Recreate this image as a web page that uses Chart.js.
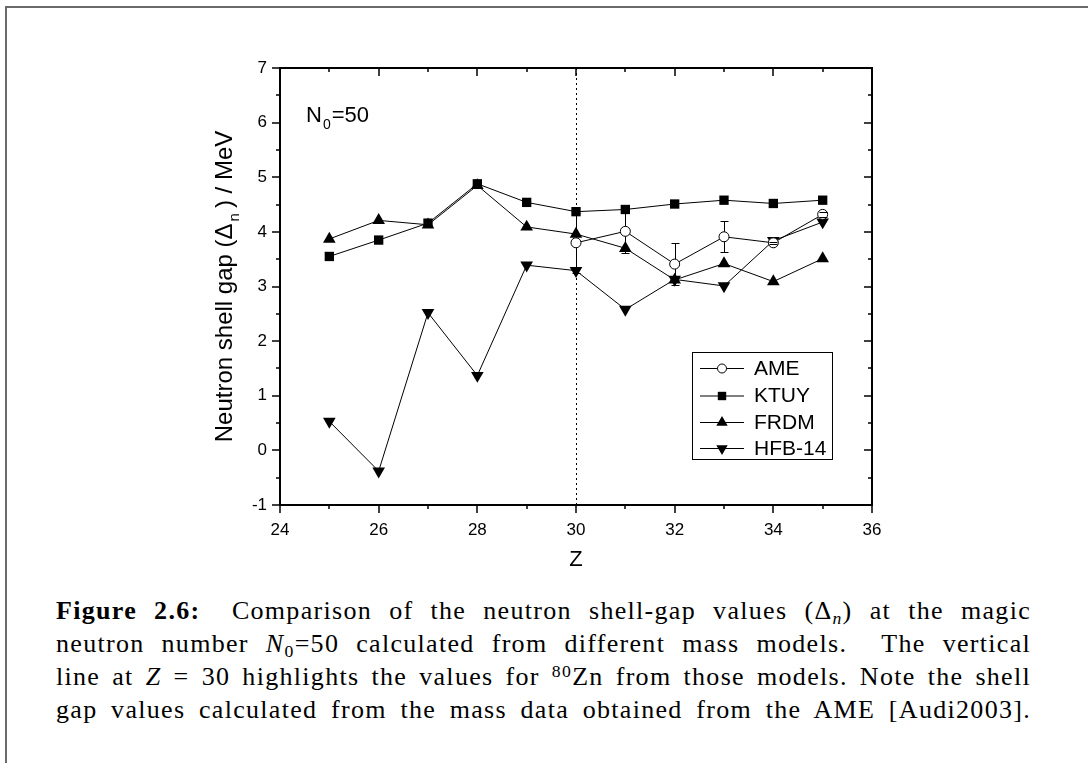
<!DOCTYPE html>
<html>
<head>
<meta charset="utf-8">
<title>Neutron shell gap at N0=50</title>
<script src="https://cdn.jsdelivr.net/npm/chart.js@4.4.1/dist/chart.umd.min.js"></script>
<style>
  html, body { margin: 0; padding: 0; background: #fff; }
  body { width: 1088px; height: 763px; position: relative; overflow: hidden; }
  #frame { position: absolute; left: 5px; top: 6px; width: 1200px; height: 900px;
           border-top: 2px solid #6a6a6a; border-left: 2px solid #6a6a6a; }
  #plot { position: absolute; left: 0; top: 0; }
  #caption { position: absolute; left: 56px; top: 594px; width: 975px;
             font-family: "Liberation Serif", "DejaVu Serif", serif; font-size: 26px;
             line-height: 33px; color: #000; letter-spacing: 0; }
  #caption div { text-align: justify; text-align-last: justify; }
  #caption sub { font-size: 0.68em; vertical-align: -0.28em; line-height: 0; }
  #caption sup { font-size: 0.68em; vertical-align: 0.45em; line-height: 0; }
  .probe { position: absolute; visibility: hidden; white-space: nowrap; left: 0; top: 0; }
</style>
</head>
<body>
<div id="frame"></div>
<canvas id="plot" width="1088" height="590"></canvas>
<div id="caption">
  <div><b>Figure 2.6:</b>&ensp; Comparison of the neutron shell-gap values (Δ<sub><i>n</i></sub>) at the magic</div>
  <div>neutron number <i>N</i><sub>0</sub>=50 calculated from different mass models. &nbsp;The vertical</div>
  <div>line at <i>Z</i> = 30 highlights the values for <sup>80</sup>Zn from those models. Note the shell</div>
  <div>gap values calculated from the mass data obtained from the AME [Audi2003].</div>
</div>
<script>
// Proton number Z of the N0 = 50 isotones
const zValues = [25, 26, 27, 28, 29, 30, 31, 32, 33, 34, 35];

// Neutron shell gap (MeV) from the mass models
const ktuy  = [3.55, 3.85, 4.16, 4.88, 4.54, 4.37, 4.41, 4.51, 4.58, 4.52, 4.58];
const frdm  = [3.87, 4.21, 4.13, 4.85, 4.09, 3.96, 3.70, 3.12, 3.42, 3.09, 3.51];
const hfb14 = [0.53, -0.38, 2.52, 1.37, 3.39, 3.29, 2.58, 3.13, 3.01, 3.84, 4.18];

// Shell gap from the evaluated masses, with uncertainties
const ameZ   = [30, 31, 32, 33, 34, 35];
const ame    = [3.80, 4.01, 3.41, 3.91, 3.80, 4.32];
const ameErr = [0.55, 0.40, 0.38, 0.28, 0.02, 0.05];

// Axis ticks
const xMajorTicks = [24, 26, 28, 30, 32, 34, 36];
const xMinorTicks = [25, 27, 29, 31, 33, 35];
const yMajorTicks = [-1, 0, 1, 2, 3, 4, 5, 6, 7];
const yMinorTicks = [-0.5, 0.5, 1.5, 2.5, 3.5, 4.5, 5.5, 6.5];

const markedZ = 30;   // 80Zn
const seriesNames = ['AME', 'KTUY', 'FRDM', 'HFB-14'];

const SANS = '"Liberation Sans", Arial, Helvetica, sans-serif';

// Caption lines: widen the letter spacing a little, justification does the rest
(function fitCaption() {
  const cap = document.getElementById('caption');
  cap.querySelectorAll('div').forEach(div => {
    const probe = document.createElement('span');
    probe.className = 'probe';
    probe.innerHTML = div.innerHTML;
    cap.appendChild(probe);
    const w = probe.getBoundingClientRect().width;
    probe.remove();
    const n = div.textContent.trim().length;
    const ls = Math.max(0, Math.min(1.3, (968 - w) / n));
    div.style.letterSpacing = ls.toFixed(2) + 'px';
  });
})();

function pairs(xs, ys) { return xs.map((x, i) => ({ x: x, y: ys[i] })); }

const datasets = [
  { label: seriesNames[0], data: pairs(ameZ, ame), order: 0,
    pointStyle: 'circle', pointRadius: 5, pointBackgroundColor: '#fff',
    pointBorderColor: '#000', pointBorderWidth: 1 },
  { label: seriesNames[1], data: pairs(zValues, ktuy), order: 1,
    pointStyle: 'rect', pointRadius: 6.6, pointBackgroundColor: '#000',
    pointBorderColor: '#000', pointBorderWidth: 0 },
  { label: seriesNames[2], data: pairs(zValues, frdm), order: 2,
    pointStyle: 'triangle', pointRadius: 7.3, pointBackgroundColor: '#000',
    pointBorderColor: '#000', pointBorderWidth: 0 },
  { label: seriesNames[3], data: pairs(zValues, hfb14), order: 3,
    pointStyle: 'triangle', pointRotation: 180, pointRadius: 7.3, pointBackgroundColor: '#000',
    pointBorderColor: '#000', pointBorderWidth: 0 }
].map(d => Object.assign({ showLine: true, borderColor: '#000', borderWidth: 1,
                           backgroundColor: '#000', pointHoverRadius: d.pointRadius }, d));

// Dotted marker line, error bars, frame with ticks, labels and the legend
const decorations = {
  id: 'decorations',
  beforeDatasetsDraw(chart) {
    const { ctx, chartArea: a, scales: { x } } = chart;
    const px = Math.round(x.getPixelForValue(markedZ)) + 0.5;
    ctx.save();
    ctx.strokeStyle = '#000';
    ctx.lineWidth = 1;
    ctx.setLineDash([2, 3]);
    ctx.beginPath();
    ctx.moveTo(px, a.bottom);
    ctx.lineTo(px, a.top);
    ctx.stroke();
    ctx.restore();
  },
  afterDatasetsDraw(chart) {
    const { ctx, chartArea: a, scales: { x, y } } = chart;
    ctx.save();
    ctx.strokeStyle = '#000';
    ctx.fillStyle = '#000';

    // error bars of the AME points
    const r = datasets[0].pointRadius;
    ctx.lineWidth = 1;
    ameZ.forEach((z, i) => {
      const px = Math.round(x.getPixelForValue(z)) + 0.5;
      const cy = y.getPixelForValue(ame[i]);
      const top = y.getPixelForValue(ame[i] + ameErr[i]);
      const bot = y.getPixelForValue(ame[i] - ameErr[i]);
      ctx.beginPath();
      if (top < cy - r) { ctx.moveTo(px, top); ctx.lineTo(px, cy - r); }
      if (bot > cy + r) { ctx.moveTo(px, cy + r); ctx.lineTo(px, bot); }
      if (bot - top > 2) {
        ctx.moveTo(px - 4, Math.round(top) + 0.5); ctx.lineTo(px + 4, Math.round(top) + 0.5);
        ctx.moveTo(px - 4, Math.round(bot) + 0.5); ctx.lineTo(px + 4, Math.round(bot) + 0.5);
      }
      ctx.stroke();
    });

    // frame
    ctx.lineWidth = 2;
    ctx.strokeRect(a.left, a.top, a.right - a.left, a.bottom - a.top);

    // ticks: outward on the left and bottom, inward on the right and top
    const MAJ = 8, MIN = 4;
    ctx.lineWidth = 1.5;
    ctx.beginPath();
    const xt = (v, len) => {
      const p = Math.round(x.getPixelForValue(v));
      ctx.moveTo(p, a.bottom); ctx.lineTo(p, a.bottom + len);
      ctx.moveTo(p, a.top); ctx.lineTo(p, a.top + len);
    };
    const yt = (v, len) => {
      const p = Math.round(y.getPixelForValue(v));
      ctx.moveTo(a.left, p); ctx.lineTo(a.left - len, p);
      ctx.moveTo(a.right, p); ctx.lineTo(a.right - len, p);
    };
    xMajorTicks.forEach(v => xt(v, MAJ));
    xMinorTicks.forEach(v => xt(v, MIN));
    yMajorTicks.forEach(v => yt(v, MAJ));
    yMinorTicks.forEach(v => yt(v, MIN));
    ctx.stroke();

    // axis titles
    const cx = (a.left + a.right) / 2;
    const cyMid = (a.top + a.bottom) / 2;
    ctx.textBaseline = 'alphabetic';
    ctx.font = '22px ' + SANS;
    ctx.textAlign = 'center';
    ctx.fillText('Z', cx, 566);

    ctx.save();
    ctx.translate(232, cyMid);
    ctx.rotate(-Math.PI / 2);
    const t1 = 'Neutron shell gap (Δ', t2 = ') / MeV', ts = 'n';
    ctx.font = '24px ' + SANS;
    const w1 = ctx.measureText(t1).width, w2 = ctx.measureText(t2).width;
    ctx.font = '15px ' + SANS;
    const ws = ctx.measureText(ts).width + 7;
    const sx = -(w1 + ws + w2) / 2;
    ctx.textAlign = 'left';
    ctx.font = '24px ' + SANS;
    ctx.fillText(t1, sx, 0);
    ctx.font = '15px ' + SANS;
    ctx.fillText(ts, sx + w1 + 2, 7);
    ctx.font = '24px ' + SANS;
    ctx.fillText(t2, sx + w1 + ws, 0);
    ctx.restore();

    // N0 = 50 label
    ctx.textAlign = 'left';
    ctx.font = '22px ' + SANS;
    ctx.fillText('N', 306, 122);
    const wn = ctx.measureText('N').width;
    ctx.font = '14px ' + SANS;
    ctx.fillText('0', 306 + wn + 1, 129);
    const w0 = ctx.measureText('0').width;
    ctx.font = '22px ' + SANS;
    ctx.fillText('=50', 306 + wn + w0 + 2, 122);

    // legend
    const lx = 692, ly = 352, lw = 140, lh = 107;
    ctx.lineWidth = 1;
    ctx.fillStyle = '#fff';
    ctx.fillRect(lx, ly, lw, lh);
    ctx.strokeStyle = '#000';
    ctx.strokeRect(lx + 0.5, ly + 0.5, lw, lh);
    const rows = [368, 395.5, 422, 448];
    ctx.font = '21px ' + SANS;
    ctx.textBaseline = 'middle';
    datasets.forEach((d, i) => {
      const ry = rows[i] + 0.5;
      ctx.strokeStyle = '#000';
      ctx.lineWidth = 1;
      ctx.beginPath();
      ctx.moveTo(700, ry); ctx.lineTo(744, ry);
      ctx.stroke();
      ctx.fillStyle = d.pointBackgroundColor;
      ctx.strokeStyle = d.pointBorderColor;
      Chart.helpers.drawPoint(ctx, {
        pointStyle: d.pointStyle, radius: d.pointRadius * 0.9,
        rotation: d.pointRotation || 0, borderWidth: d.pointBorderWidth
      }, 722, ry);
      ctx.fillStyle = '#000';
      ctx.fillText(d.label, 754, rows[i] + 1);
    });
    ctx.restore();
  }
};

new Chart(document.getElementById('plot'), {
  type: 'scatter',
  data: { datasets: datasets },
  options: {
    responsive: false,
    animation: false,
    events: [],
    layout: { padding: { top: 68, right: 216, left: 0, bottom: 0 } },
    plugins: { legend: { display: false }, tooltip: { enabled: false } },
    scales: {
      x: {
        type: 'linear', min: 24, max: 36,
        afterFit(s) { s.height = 85; },
        afterBuildTicks(s) { s.ticks = xMajorTicks.map(v => ({ value: v })); },
        ticks: { color: '#000', font: { family: SANS, size: 17 }, padding: 15, maxRotation: 0 },
        grid: { display: false, drawTicks: false },
        border: { display: false }
      },
      y: {
        type: 'linear', min: -1, max: 7,
        afterFit(s) { s.width = 280; },
        afterBuildTicks(s) { s.ticks = yMajorTicks.map(v => ({ value: v })); },
        ticks: { color: '#000', font: { family: SANS, size: 17 }, padding: 13 },
        grid: { display: false, drawTicks: false },
        border: { display: false }
      }
    }
  },
  plugins: [decorations]
});
</script>
</body>
</html>
